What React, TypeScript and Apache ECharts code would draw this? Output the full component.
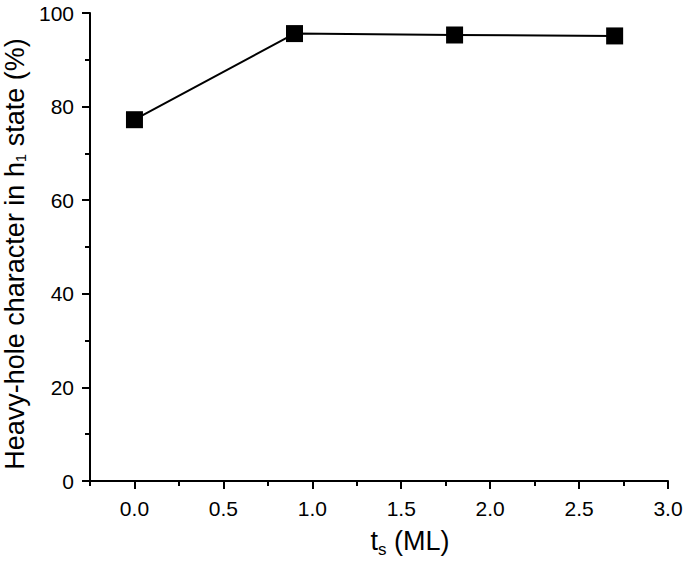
import React, { useEffect, useRef } from "react";
import * as echarts from "echarts";

const tsValues = [0.0, 0.9, 1.8, 2.7];
const heavyHole = [77.2, 95.6, 95.3, 95.1];
const xMajorTicks = [0.0, 0.5, 1.0, 1.5, 2.0, 2.5, 3.0];
const xMinorTicks = [-0.25, 0.25, 0.75, 1.25, 1.75, 2.25, 2.75];

const FONT = "Liberation Sans";
const FS = 21;
const NAME_FS = 27;

export default function App() {
  const ref = useRef<HTMLDivElement>(null);
  useEffect(() => {
    if (!ref.current) return;
    const chart = echarts.init(ref.current, null, { renderer: "svg" });
    chart.setOption({
      animation: false,
      backgroundColor: "#ffffff",
      textStyle: { fontFamily: FONT, fontSize: FS, color: "#000" },
      grid: {
        left: 90,
        right: 17,
        top: 13,
        bottom: 82,
        containLabel: false,
        outerBoundsMode: "none",
      },
      xAxis: [
        {
          type: "value",
          min: -0.25,
          max: 3.0,
          name: "t{sub|s} (ML)",
          nameLocation: "middle",
          nameGap: 42,
          nameTextStyle: {
            fontFamily: FONT,
            fontSize: NAME_FS,
            color: "#000",
            padding: [0, 0, 0, 62],
            rich: {
              sub: { fontFamily: FONT, fontSize: 17, color: "#000", padding: [18, 0, 0, 0] },
            },
          },
          axisLine: { show: true, onZero: false, lineStyle: { color: "#000", width: 2 } },
          axisTick: {
            show: true,
            inside: false,
            length: 8,
            customValues: xMajorTicks,
            lineStyle: { color: "#000", width: 2 },
          },
          axisLabel: {
            customValues: xMajorTicks,
            formatter: (v: number) => v.toFixed(1),
            fontFamily: FONT,
            fontSize: FS,
            color: "#000",
            margin: 17,
          },
          splitLine: { show: false },
        },
        {
          type: "value",
          min: -0.25,
          max: 3.0,
          position: "bottom",
          axisLine: { show: false },
          axisTick: {
            show: true,
            length: 5,
            customValues: xMinorTicks,
            lineStyle: { color: "#000", width: 2 },
          },
          axisLabel: { show: false },
          splitLine: { show: false },
        },
      ],
      yAxis: {
        type: "value",
        min: 0,
        max: 100,
        interval: 20,
        name: "Heavy-hole character in h{sub|1} state (%)",
        nameLocation: "middle",
        nameGap: 58,
        nameTextStyle: {
          fontFamily: FONT,
          fontSize: NAME_FS,
          color: "#000",
          padding: [0, 14, 0, 0],
          rich: {
            sub: { fontFamily: FONT, fontSize: 15, color: "#000", padding: [12, 0, 0, 0] },
          },
        },
        axisLine: { show: true, onZero: false, lineStyle: { color: "#000", width: 2 } },
        axisTick: { show: true, inside: false, length: 8, lineStyle: { color: "#000", width: 2 } },
        minorTick: { show: true, splitNumber: 2, length: 5, lineStyle: { color: "#000", width: 2 } },
        axisLabel: { fontFamily: FONT, fontSize: FS, color: "#000", margin: 16 },
        splitLine: { show: false },
        minorSplitLine: { show: false },
      },
      series: [
        {
          type: "line",
          data: tsValues.map((x, i) => [x, heavyHole[i]]),
          symbol: "rect",
          symbolSize: 17,
          itemStyle: { color: "#000" },
          lineStyle: { color: "#000", width: 2 },
          xAxisIndex: 0,
        },
      ],
    });
    return () => chart.dispose();
  }, []);
  return (
    <div
      ref={ref}
      style={{ position: "fixed", left: 0, top: 0, width: 685, height: 563, background: "#fff" }}
    />
  );
}
